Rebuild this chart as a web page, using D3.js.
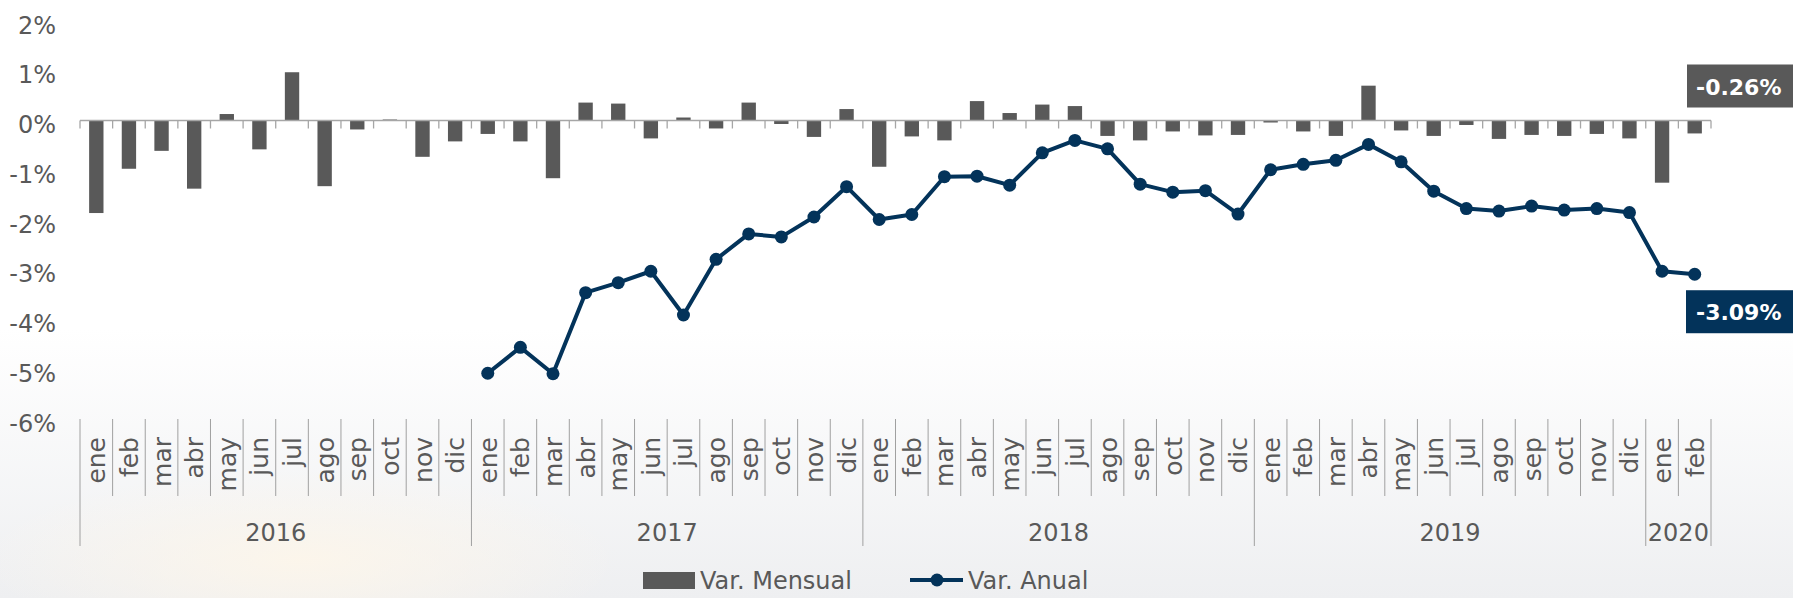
<!DOCTYPE html>
<html>
<head>
<meta charset="utf-8">
<script src="https://cdn.jsdelivr.net/npm/d3@7"></script>
<style>
  html, body { margin: 0; padding: 0; overflow: hidden; }
  body { width: 1793px; height: 598px; }
  svg { display: block; font-family: 'DejaVu Sans', sans-serif; }
</style>
</head>
<body>
<script>
// chart data
const years = ['2016', '2017', '2018', '2019', '2020'];
const monthsInYear = [12, 12, 12, 12, 2];
const monthNames = ['ene', 'feb', 'mar', 'abr', 'may', 'jun', 'jul', 'ago', 'sep', 'oct', 'nov', 'dic'];

// monthly change (%), ene 2016 .. feb 2020
const varMensual = [
  -1.86, -0.97, -0.61, -1.37, 0.13, -0.58, 0.97, -1.32, -0.18, 0.02, -0.73, -0.42,
  -0.27, -0.42, -1.16, 0.36, 0.34, -0.36, 0.06, -0.16, 0.36, -0.07, -0.33, 0.23,
  -0.93, -0.32, -0.40, 0.39, 0.15, 0.32, 0.29, -0.31, -0.40, -0.22, -0.30, -0.29,
  -0.04, -0.22, -0.31, 0.70, -0.20, -0.31, -0.09, -0.37, -0.29, -0.31, -0.27, -0.36,
  -1.25, -0.26
];

// yearly change (%), starts ene 2017
const varAnual = [
  null, null, null, null, null, null, null, null, null, null, null, null,
  -5.08, -4.56, -5.09, -3.46, -3.26, -3.03, -3.91, -2.79, -2.28, -2.34, -1.94, -1.33,
  -1.99, -1.89, -1.13, -1.12, -1.30, -0.65, -0.40, -0.57, -1.28, -1.44, -1.41, -1.88,
  -0.99, -0.88, -0.80, -0.48, -0.83, -1.42, -1.77, -1.82, -1.72, -1.80, -1.77, -1.85,
  -3.03, -3.09
];

const yTicks = [2, 1, 0, -1, -2, -3, -4, -5, -6];
const seriesNames = ['Var. Mensual', 'Var. Anual'];

const W = 1793, H = 598;
const barColor = '#595959';
const lineColor = '#03335a';
const textColor = '#595959';

// build category list
const cats = [];
years.forEach((yr, yi) => {
  for (let m = 0; m < monthsInYear[yi]; m++) {
    cats.push({ key: yr + '-' + m, year: yr, month: monthNames[m], yi: yi });
  }
});
const rows = cats.map((c, i) => ({ ...c, mensual: varMensual[i], anual: varAnual[i] }));

const svg = d3.select('body').append('svg')
  .attr('width', W)
  .attr('height', H);

// soft background
const defs = svg.append('defs');
const bg = defs.append('linearGradient').attr('id', 'bg')
  .attr('x1', 0).attr('y1', 0).attr('x2', 0).attr('y2', 1);
bg.append('stop').attr('offset', '0%').attr('stop-color', '#ffffff');
bg.append('stop').attr('offset', '55%').attr('stop-color', '#ffffff');
bg.append('stop').attr('offset', '100%').attr('stop-color', '#eeeff1');
svg.append('rect').attr('width', W).attr('height', H).attr('fill', 'url(#bg)');

const glow = defs.append('radialGradient').attr('id', 'glow');
glow.append('stop').attr('offset', '0%').attr('stop-color', '#fdf6ea').attr('stop-opacity', 0.9);
glow.append('stop').attr('offset', '100%').attr('stop-color', '#fdf6ea').attr('stop-opacity', 0);
svg.append('ellipse').attr('cx', 300).attr('cy', 560).attr('rx', 320).attr('ry', 90).attr('fill', 'url(#glow)');

const x = d3.scaleBand()
  .domain(cats.map(c => c.key))
  .range([80, 1711])
  .padding(0);

const y = d3.scaleLinear()
  .domain([-6, 2])
  .range([419, 21]);

const bw = x.bandwidth() * 0.44;
const cx = k => x(k) + x.bandwidth() / 2;
const pct = v => v.toFixed(2) + '%';

// y axis labels
const yAxis = d3.axisLeft(y)
  .tickValues(yTicks)
  .tickFormat(d => d + '%')
  .tickSize(0)
  .tickPadding(24);

const yg = svg.append('g')
  .attr('transform', 'translate(80,0)')
  .call(yAxis);
yg.select('.domain').remove();
yg.selectAll('text')
  .attr('font-size', 24)
  .attr('font-family', "'DejaVu Sans', sans-serif")
  .attr('fill', textColor)
  .attr('dy', '0.5em');

// bars
svg.append('g')
  .selectAll('rect')
  .data(rows)
  .join('rect')
  .attr('x', d => cx(d.key) - bw / 2)
  .attr('width', bw)
  .attr('y', d => y(Math.max(0, d.mensual)))
  .attr('height', d => Math.abs(y(d.mensual) - y(0)))
  .attr('fill', barColor);

// zero axis with ticks at band edges
const edges = cats.map(c => x(c.key)).concat([x.range()[1]]);
const zero = svg.append('g').attr('stroke', '#a6a6a6');
zero.append('line')
  .attr('x1', x.range()[0]).attr('x2', x.range()[1])
  .attr('y1', y(0)).attr('y2', y(0))
  .attr('stroke-width', 1.6);
zero.selectAll('line.tk')
  .data(edges)
  .join('line')
  .attr('class', 'tk')
  .attr('x1', d => d).attr('x2', d => d)
  .attr('y1', y(0)).attr('y2', y(0) + 8)
  .attr('stroke-width', 1.3);

// yearly line
const lineData = rows.filter(d => d.anual !== null);
const line = d3.line()
  .x(d => cx(d.key))
  .y(d => y(d.anual));

svg.append('path')
  .attr('d', line(lineData))
  .attr('fill', 'none')
  .attr('stroke', lineColor)
  .attr('stroke-width', 4)
  .attr('stroke-linejoin', 'round');

svg.append('g')
  .selectAll('circle')
  .data(lineData)
  .join('circle')
  .attr('cx', d => cx(d.key))
  .attr('cy', d => y(d.anual))
  .attr('r', 6.5)
  .attr('fill', lineColor);

// category labels (month + year levels)
const catTop = y(-6);
const sep = svg.append('g').attr('stroke', '#a0a0a0').attr('stroke-width', 1);
sep.selectAll('line')
  .data(edges)
  .join('line')
  .attr('x1', d => d).attr('x2', d => d)
  .attr('y1', catTop)
  .attr('y2', (d, i) => {
    const isYearEdge = i === 0 || i === edges.length - 1 || cats[i].month === 'ene';
    return isYearEdge ? catTop + 127 : catTop + 77;
  });

svg.append('g')
  .selectAll('text')
  .data(rows)
  .join('text')
  .attr('transform', d => `translate(${cx(d.key)},${catTop + 18}) rotate(-90)`)
  .attr('text-anchor', 'end')
  .attr('dy', '0.36em')
  .attr('font-size', 25)
  .attr('fill', textColor)
  .text(d => d.month);

const yearGroups = d3.groups(rows, d => d.year);
svg.append('g')
  .selectAll('text')
  .data(yearGroups)
  .join('text')
  .attr('x', d => {
    const first = d[1][0].key, last = d[1][d[1].length - 1].key;
    return (x(first) + x(last) + x.bandwidth()) / 2;
  })
  .attr('y', catTop + 122)
  .attr('text-anchor', 'middle')
  .attr('font-size', 24)
  .attr('fill', textColor)
  .text(d => d[0]);

// end-value callouts
const lastRow = rows[rows.length - 1];
const boxX = x.range()[1] - 24;

const c1 = svg.append('g');
c1.append('rect')
  .attr('x', boxX).attr('y', y(0) - 56)
  .attr('width', 120).attr('height', 43)
  .attr('fill', barColor);
c1.append('text')
  .attr('x', boxX + 9).attr('y', y(0) - 26)
  .attr('font-size', 22).attr('font-weight', 'bold')
  .attr('fill', '#ffffff')
  .text(pct(lastRow.mensual));

const c2 = svg.append('g');
c2.append('rect')
  .attr('x', boxX - 1).attr('y', y(lastRow.anual) + 16)
  .attr('width', 121).attr('height', 43)
  .attr('fill', lineColor);
c2.append('text')
  .attr('x', boxX + 9).attr('y', y(lastRow.anual) + 46)
  .attr('font-size', 22).attr('font-weight', 'bold')
  .attr('fill', '#ffffff')
  .text(pct(lastRow.anual));

// legend
const lg = svg.append('g').attr('transform', 'translate(0,580)');
lg.append('rect')
  .attr('x', 643).attr('y', -8)
  .attr('width', 52).attr('height', 17)
  .attr('fill', barColor);
lg.append('text')
  .attr('x', 700).attr('y', 9)
  .attr('font-size', 24).attr('fill', textColor)
  .text(seriesNames[0]);
lg.append('line')
  .attr('x1', 910).attr('x2', 963)
  .attr('y1', 0).attr('y2', 0)
  .attr('stroke', lineColor).attr('stroke-width', 4);
lg.append('circle')
  .attr('cx', 937).attr('cy', 0).attr('r', 6.5)
  .attr('fill', lineColor);
lg.append('text')
  .attr('x', 968).attr('y', 9)
  .attr('font-size', 24).attr('fill', textColor)
  .text(seriesNames[1]);
</script>
</body>
</html>
